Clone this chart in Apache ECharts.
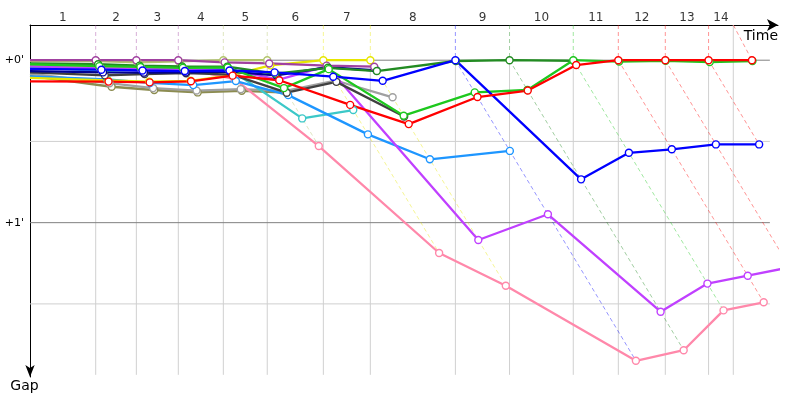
<!DOCTYPE html>
<html><head><meta charset="utf-8">
<script src="https://cdn.jsdelivr.net/npm/echarts@6/dist/echarts.min.js"></script>
<style>html,body{margin:0;padding:0;background:#fff}#c{width:800px;height:400px}</style>
</head><body><div id="c"></div>
<script>
// ---- data (seconds) ----
const lapLabels = ['1','2','3','4','5','6','7','8','9','10','11','12','13','14'];
// vertical lap marks on the time axis (last one = end of race time)
const lapMarks = [40.4, 65.4, 91.2, 118.9, 145.9, 180.4, 209.3, 261.6, 294.9, 334.1, 361.8, 390.7, 417.3, 432.5];
// time at which the leader completed each lap
const leaderTimes = [40.4, 65.4, 91.2, 118.9, 145.9, 180.4, 209.3, 261.6, 294.9, 334.1, 361.8, 390.7, 417.3, 444.0];
const gridGaps = [0, 30, 60, 90];
const gapTickValues = [0, 60];

// gap to leader per car, index 0 = start, index k = end of lap k
const gapsOlive      = [5.8, 9.8, 11.0, 11.9, 11.3, 12.0];
const gapsGray       = [5.0, 8.5, 10.3, 11.2, 10.7, 11.3, 7.5, 13.7];
const gapsLightOlive = [0.3, 0.3, 0.8, 0.4, 0, 0];
const gapsCyan       = [2.5, 4.0, 3.4, 4.0, 3.0, 21.5, 18.4];
const gapsPink       = [1.8, 2.5, 2.7, 3.0, 7.0, 31.7, 71.2, 83.3, 111.0, 107.1, 92.4, 89.4];
const gapsLightBlue  = [6.0, 7.1, 8.4, 9.2, 7.7, 12.9, 27.4, 36.6, 33.5];
const gapsYellow     = [6.5, 7.5, 7.9, 7.6, 5.5, 1.9, 0, 0];
const gapsMagenta    = [2.3, 3.0, 3.2, 3.5, 3.5, 7.2, 2.2, 66.4, 56.9, 92.9, 82.5, 79.6, 76.5];
const gapsBlack      = [4.5, 5.6, 5.1, 4.8, 5.3, 12.0, 8.0, 20.8];
const gapsNavy       = [4.0, 4.5, 4.6, 4.5, 4.2, 5.6, 2.6, 3.8];
const gapsPurple     = [0, 0, 0, 0, 0.8, 1.2, 2.0, 2.4];
const gapsDarkGreen  = [1.2, 1.5, 2.0, 2.3, 2.4, 5.0, 2.8, 4.0, 0.3, 0, 0.2];
const gapsGreen      = [1.5, 2.2, 2.5, 2.8, 2.7, 10.3, 3.3, 20.5, 11.9, 11.0, 0, 0.5, 0.2, 0.7, 0.3];
const gapsBlue       = [3.2, 3.5, 3.8, 4.0, 3.8, 4.5, 6.1, 7.6, 0, 44.0, 34.2, 32.9, 31.1, 31.1];
const gapsRed        = [7.8, 7.9, 8.2, 7.8, 5.7, 7.4, 16.5, 23.6, 13.6, 11.2, 1.8, 0, 0, 0, 0];

const cars = [
  {name:'Olive', color:'#8c8c50', gaps:gapsOlive},
  {name:'Gray', color:'#a0a0a0', gaps:gapsGray},
  {name:'LightOlive', color:'#b2c46c', gaps:gapsLightOlive},
  {name:'Cyan', color:'#3cc8c8', gaps:gapsCyan},
  {name:'Pink', color:'#ff88aa', gaps:gapsPink},
  {name:'LightBlue', color:'#1e96ff', gaps:gapsLightBlue},
  {name:'Yellow', color:'#e6e600', gaps:gapsYellow},
  {name:'Magenta', color:'#c040ff', gaps:gapsMagenta},
  {name:'Black', color:'#404040', gaps:gapsBlack},
  {name:'Navy', color:'#000090', gaps:gapsNavy},
  {name:'Purple', color:'#a040a0', gaps:gapsPurple},
  {name:'DarkGreen', color:'#228b22', gaps:gapsDarkGreen},
  {name:'Green', color:'#1ec81e', gaps:gapsGreen},
  {name:'Blue', color:'#0000ff', gaps:gapsBlue},
  {name:'Red', color:'#ff0000', gaps:gapsRed}
];

// ---- chart ----
const FONT = 'DejaVu Sans';
const X_MAX = 460, Y_MIN = -13, Y_MAX = 117, GRID_X_END = 455, GRID_Y_END = 116.2;
const series = [];
function seg(points, color, width, type, opacity) {
  series.push({type:'line', data:points, symbol:'none', silent:true, animation:false,
    lineStyle:{color:color, width:width, type:type, opacity:opacity}});
}
lapMarks.forEach((t, i) => {
  const top = (t === leaderTimes[i]) ? 0 : Y_MIN;
  seg([[t, top], [t, GRID_Y_END]], '#d0d0d0', 1, 'solid', 1);
});
gridGaps.forEach(g => seg([[0, g], [GRID_X_END, g]], g % 60 === 0 ? '#808080' : '#d0d0d0', 1, 'solid', 1));

// lap lines: leader colour, dashed
for (let k = 1; k <= lapLabels.length; k++) {
  let leader = null, minG = Infinity, maxG = -Infinity;
  cars.forEach(c => {
    const g = c.gaps[k];
    if (g === undefined || g === null) return;
    if (g < minG) { minG = g; leader = c; }
    if (g > maxG) maxG = g;
  });
  if (!leader) continue;
  const T = leaderTimes[k - 1];
  seg([[lapMarks[k - 1], Y_MIN], [T, 0], [T + maxG, maxG]], leader.color, 1, [4, 3], 0.42);
}

cars.forEach(c => {
  series.push({
    type:'line', name:c.name, animation:false,
    data:c.gaps.map((g, k) => k === 0 ? {value:[0, g], symbol:'none'} : [leaderTimes[k - 1] + g, g]),
    symbol:'circle', symbolSize:7, showAllSymbol:true,
    lineStyle:{color:c.color, width:2.3},
    itemStyle:{color:'#fff', borderColor:c.color, borderWidth:1.4}
  });
});

// lap numbers
series.push({
  type:'scatter', silent:true, animation:false, symbolSize:0,
  data:lapLabels.map((l, i) => [((i === 0 ? 0 : lapMarks[i - 1]) + lapMarks[i]) / 2, Y_MIN, l]),
  label:{show:true, position:'top', distance:1, formatter:p => p.data[2], color:'#000', fontSize:12, fontFamily:FONT}
});

const chart = echarts.init(document.getElementById('c'), null, {renderer:'canvas'});
chart.setOption({
  animation:false,
  backgroundColor:'#fff',
  grid:{left:30, top:25, right:22, bottom:23, containLabel:false},
  xAxis:{type:'value', position:'top', min:0, max:X_MAX,
    axisLine:{show:true, onZero:false, lineStyle:{color:'#000', width:1}, symbol:['none','arrow'], symbolSize:[9,11]},
    axisTick:{show:false}, axisLabel:{show:false}, splitLine:{show:false},
    name:'Time', nameLocation:'end', nameGap:0,
    nameTextStyle:{color:'#000', fontSize:14, fontFamily:FONT, align:'right', verticalAlign:'top', padding:[4,0,0,0]}},
  yAxis:{type:'value', inverse:true, min:Y_MIN, max:Y_MAX,
    axisLine:{show:true, onZero:false, lineStyle:{color:'#000', width:1}, symbol:['arrow','none'], symbolSize:[7,12]},
    axisTick:{show:false}, splitLine:{show:false},
    axisLabel:{customValues:gapTickValues, formatter:v => '+' + (v / 60) + "'", color:'#000', fontSize:11, fontFamily:FONT, margin:6},
    name:'Gap', nameLocation:'end', nameGap:2,
    nameTextStyle:{color:'#000', fontSize:14, fontFamily:FONT, align:'center', verticalAlign:'top', padding:[0,11,0,0]}},
  series:series
});
</script></body></html>
